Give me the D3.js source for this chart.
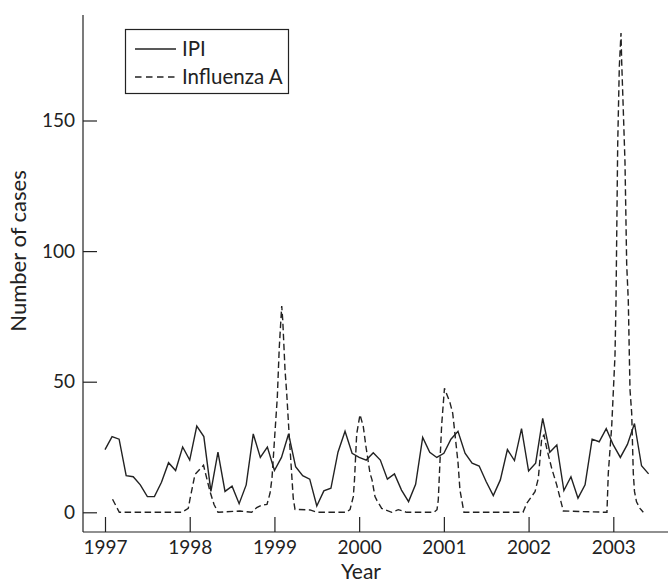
<!DOCTYPE html>
<html>
<head>
<meta charset="utf-8">
<script src="https://cdn.jsdelivr.net/npm/d3@7.9.0/dist/d3.min.js"></script>
<style>
  body { margin: 0; background: #fff; }
  svg text { font-family: Lato, "Open Sans", sans-serif; fill: #222; }
</style>
</head>
<body>
<svg width="668" height="584"></svg>
<script>
// IPI cases, monthly Jan 1997 - Jun 2003
const ipi = [
  24, 29, 28, 14, 13.6, 10.5, 6, 6, 11.5, 19, 16, 25,
  20, 33, 29, 8, 23, 8, 10, 3.3, 10.5, 30, 21, 25,
  16, 21, 30, 17.5, 14, 12.7, 2.4, 8.2, 9.2, 23, 31, 22.6,
  21, 20, 22.8, 20, 12.7, 14.7, 8.5, 4.1, 10.7, 28.7, 23, 21,
  22.6, 28, 31, 22.6, 18.8, 17.7, 11.7, 6.4, 12.4, 24, 19.8, 32,
  15.8, 18.8, 36, 23, 25.8, 8.3, 13.6, 5.4, 10.5, 28, 27, 32,
  25.8, 21, 26, 34, 17.8, 14.7
];
const ipiStart = 1997;

// Influenza A, weekly series given at its turning points (decimal year, cases)
const fluYears = [
  1997.089, 1997.169, 1997.909, 1997.983, 1998.003, 1998.062, 1998.163, 1998.239, 1998.287, 1998.334,
  1998.593, 1998.732, 1998.791, 1998.853, 1998.912, 1998.948, 1998.971, 1999.007, 1999.034, 1999.057,
  1999.086, 1999.098, 1999.125, 1999.145, 1999.175, 1999.222, 1999.243, 1999.420, 1999.499, 1999.845,
  1999.892, 1999.931, 1999.945, 1999.971, 2000.010, 2000.049, 2000.081, 2000.128, 2000.152, 2000.187,
  2000.211, 2000.266, 2000.384, 2000.462, 2000.561, 2000.883, 2000.919, 2000.934, 2000.954, 2000.974,
  2001.007, 2001.072, 2001.104, 2001.131, 2001.167, 2001.190, 2001.237, 2001.934, 2001.978, 2002.076,
  2002.115, 2002.155, 2002.182, 2002.214, 2002.273, 2002.332, 2002.410, 2002.925, 2002.941, 2002.981,
  2003.020, 2003.032, 2003.052, 2003.071, 2003.091, 2003.099, 2003.118, 2003.138, 2003.158, 2003.177,
  2003.197, 2003.217, 2003.236, 2003.250, 2003.274, 2003.315, 2003.354
];
const fluValues = [
  5, 0, 0, 1.5, 5, 14.5, 18, 8, 3, 0,
  0.5, 0, 1.8, 2.8, 3, 7.3, 13, 31, 44, 63,
  79, 73.6, 54.5, 45.5, 29, 5.4, 1.1, 0.9, 0, 0,
  1, 6, 12.4, 30, 37.4, 32.8, 25, 15, 12.4, 6,
  4.5, 1.5, 0, 1, 0, 0, 1, 4.7, 19.4, 33.4,
  47.5, 42, 38, 30, 19, 8.5, 0, 0, 3.4, 7.9,
  13, 28.3, 29.6, 24.5, 16.8, 10.5, 0.5, 0, 15, 32.8,
  60, 81, 141, 170.6, 183.5, 172.5, 154, 134, 95, 81,
  47, 38, 15, 8, 4, 1.5, 0
];

const years = [1997, 1998, 1999, 2000, 2001, 2002, 2003];
const yTicks = [0, 50, 100, 150];

const svg = d3.select('svg');

const x = d3.scaleLinear().domain([1997, 2003]).range([105, 613.3]);
const y = d3.scaleLinear().domain([0, 150]).range([512.3, 120.5]);

const axisLeftX = 83, axisBottomY = 532;

// axis lines
svg.append('line')
  .attr('x1', axisLeftX).attr('x2', axisLeftX)
  .attr('y1', 15).attr('y2', axisBottomY)
  .attr('stroke', '#222').attr('stroke-width', 1.2);
svg.append('line')
  .attr('x1', axisLeftX).attr('x2', 668)
  .attr('y1', axisBottomY).attr('y2', axisBottomY)
  .attr('stroke', '#222').attr('stroke-width', 1.2);

// ticks point inward
const gy = svg.append('g')
  .attr('transform', `translate(${axisLeftX},0)`)
  .call(d3.axisLeft(y).tickValues(yTicks).tickSize(-14).tickPadding(8));
gy.select('.domain').remove();

const gx = svg.append('g')
  .attr('transform', `translate(0,${axisBottomY})`)
  .call(d3.axisBottom(x).tickValues(years).tickFormat(d3.format('d')).tickSize(-15).tickPadding(9));
gx.select('.domain').remove();

svg.selectAll('.tick line').attr('stroke', '#222').attr('stroke-width', 1.2);
svg.selectAll('.tick text').attr('font-size', 19).attr('fill', '#222')
  .style('font-family', 'Lato, "Open Sans", sans-serif');

// axis titles
svg.append('text')
  .attr('x', 361).attr('y', 579)
  .attr('text-anchor', 'middle')
  .attr('font-size', 21)
  .text('Year');
svg.append('text')
  .attr('transform', 'translate(26,251) rotate(-90)')
  .attr('text-anchor', 'middle')
  .attr('font-size', 22)
  .text('Number of cases');

// lines
const ipiData = ipi.map((v, i) => [ipiStart + i / 12, v]);
const fluData = fluYears.map((yr, i) => [yr, fluValues[i]]);

const line = d3.line().x(d => x(d[0])).y(d => y(d[1]));

svg.append('path')
  .attr('d', line(fluData))
  .attr('fill', 'none')
  .attr('stroke', '#222')
  .attr('stroke-width', 1.4)
  .attr('stroke-dasharray', '6.5,3.5');

svg.append('path')
  .attr('d', line(ipiData))
  .attr('fill', 'none')
  .attr('stroke', '#222')
  .attr('stroke-width', 1.4);

// legend
const legend = svg.append('g');
legend.append('rect')
  .attr('x', 125.5).attr('y', 29.5)
  .attr('width', 163).attr('height', 64)
  .attr('fill', 'none').attr('stroke', '#222').attr('stroke-width', 1.2);

const legendItems = [
  { label: 'IPI', dash: null, yy: 49 },
  { label: 'Influenza A', dash: '6.5,4.5', yy: 77 }
];
legendItems.forEach(d => {
  legend.append('line')
    .attr('x1', 135).attr('x2', 176)
    .attr('y1', d.yy).attr('y2', d.yy)
    .attr('stroke', '#222').attr('stroke-width', 1.4)
    .attr('stroke-dasharray', d.dash);
  legend.append('text')
    .attr('x', 182).attr('y', d.yy)
    .attr('dy', '0.35em')
    .attr('font-size', 20.5)
    .text(d.label);
});
</script>
</body>
</html>
